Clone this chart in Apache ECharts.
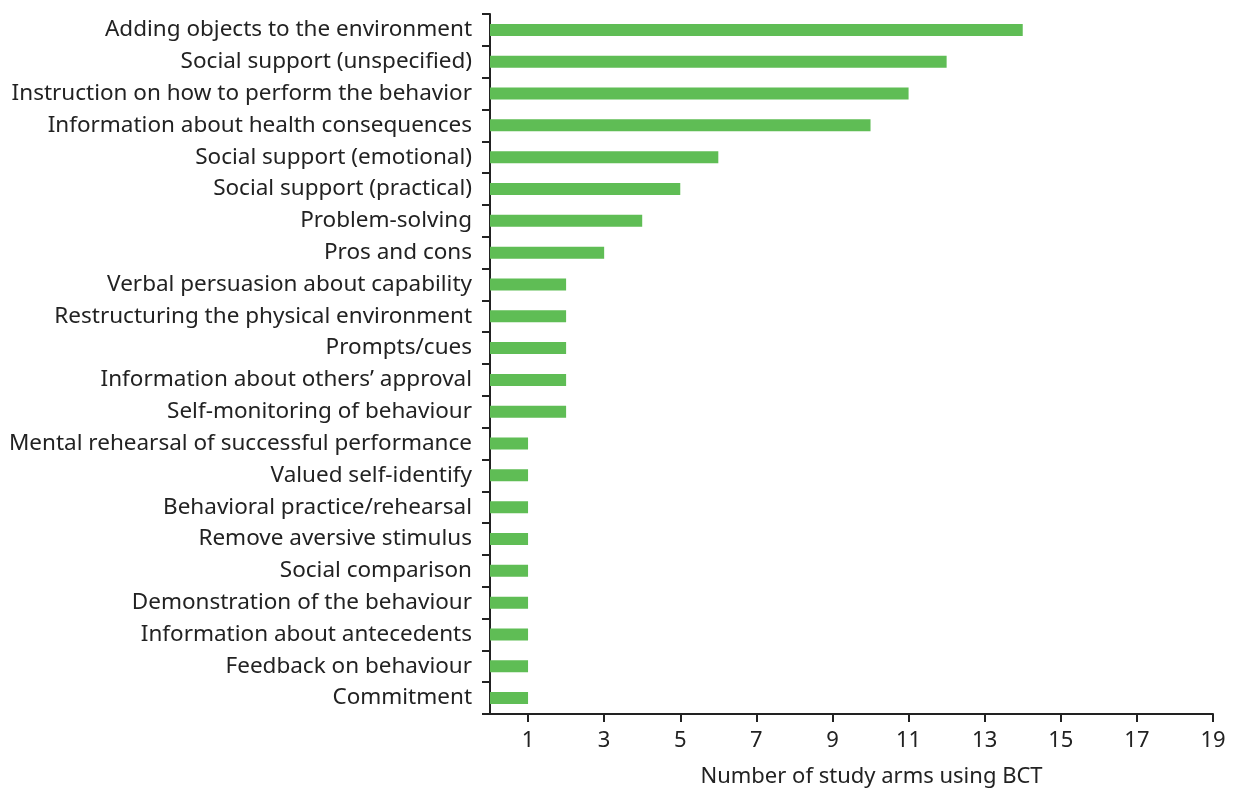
<!DOCTYPE html>
<html><head><meta charset="utf-8">
<script src="https://cdn.jsdelivr.net/npm/echarts@6/dist/echarts.min.js"></script>
<style>html,body{margin:0;padding:0;background:#fff}#c{width:1233px;height:790px}</style>
</head><body><div id="c"></div>
<script>
const categories = [
 "Adding objects to the environment",
 "Social support (unspecified)",
 "Instruction on how to perform the behavior",
 "Information about health consequences",
 "Social support (emotional)",
 "Social support (practical)",
 "Problem-solving",
 "Pros and cons",
 "Verbal persuasion about capability",
 "Restructuring the physical environment",
 "Prompts/cues",
 "Information about others\u2019 approval",
 "Self-monitoring of behaviour",
 "Mental rehearsal of successful performance",
 "Valued self-identify",
 "Behavioral practice/rehearsal",
 "Remove aversive stimulus",
 "Social comparison",
 "Demonstration of the behaviour",
 "Information about antecedents",
 "Feedback on behaviour",
 "Commitment"
];
const values = [14,12,11,10,6,5,4,3,2,2,2,2,2,1,1,1,1,1,1,1,1,1];
const tickValues = [1,3,5,7,9,11,13,15,17,19];
const xTitle = "Number of study arms using BCT";

const chart = echarts.init(document.getElementById('c'));
const font = '"Noto Sans", sans-serif';
chart.setOption({
  animation:false,
  grid:{left:490,right:20,top:14,bottom:76,containLabel:false,outerBoundsMode:'none'},
  xAxis:{type:'value',min:0,max:19,interval:1,
    name:xTitle,nameLocation:'middle',nameGap:52,
    nameTextStyle:{fontFamily:font,fontSize:22,color:'#222',padding:[0,0,0,40]},
    axisLine:{show:true,lineStyle:{color:'#222',width:2}},
    axisTick:{show:true,length:8,lineStyle:{color:'#222',width:2},customValues:tickValues},
    axisLabel:{fontFamily:font,fontSize:22,color:'#222',margin:16,customValues:tickValues},
    splitLine:{show:false}},
  yAxis:{type:'category',data:categories,inverse:true,
    axisLine:{show:true,lineStyle:{color:'#222',width:2}},
    axisTick:{show:true,length:8,lineStyle:{color:'#222',width:2}},
    axisLabel:{fontFamily:font,fontSize:22.5,color:'#222',margin:18}},
  series:[{type:'bar',data:values,barWidth:12,itemStyle:{color:'#5fbd55'}}]
});
</script></body></html>
